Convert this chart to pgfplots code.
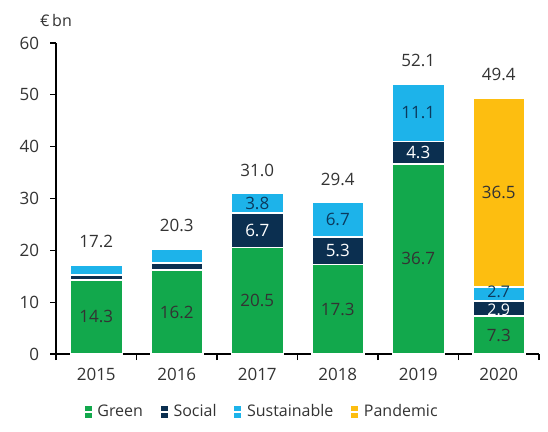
\documentclass[border=0pt]{standalone}
\usepackage{pgfplots}
\pgfplotsset{compat=1.18}
\usepackage{fontspec}
\setmainfont{Open Sans}
\definecolor{cgreen}{HTML}{12A84C}
\definecolor{cnavy}{HTML}{0B2F50}
\definecolor{cblue}{HTML}{1DB3EA}
\definecolor{cyellow}{HTML}{FDBE10}
\definecolor{ctext}{HTML}{333333}
\definecolor{cdkblue}{HTML}{0B3A5E}
\begin{document}
\fontsize{17}{20}\selectfont
\begin{tikzpicture}
\useasboundingbox (-56pt,-77pt) rectangle (492pt,354pt);
\begin{axis}[
  at={(0pt,0pt)}, anchor=south west,
  width=483pt, height=311pt, scale only axis, clip=false,
  ybar stacked, bar width=52pt,
  xmin=-0.5, xmax=5.5, ymin=0, ymax=60,
  axis x line=bottom, axis y line=left,
  axis line style={-, line width=1.2pt, color=black},
  xtick={-0.5,0.5,...,5.5}, xticklabels={},
  extra x ticks={0,1,2,3,4,5},
  extra x tick labels={2015,2016,2017,2018,2019,2020},
  extra x tick style={major tick length=0pt},
  ytick={0,10,...,60},
  tick align=outside, major tick length=6pt,
  tick style={black, line width=1.2pt},
  xticklabel style={text=ctext, yshift=-8pt},
  yticklabel style={text=ctext, xshift=-5pt},
  /pgf/number format/assume math mode=true,
  legend style={at={(0.426,-0.186)}, anchor=center, draw=none, fill=none,
    legend columns=4, text=ctext, font=\fontsize{16}{18}\selectfont,
    /tikz/every even column/.append style={column sep=15pt}},
  legend image code/.code={\fill[#1,draw=none] (0pt,-6pt) rectangle (7pt,6pt);
    \path (0pt,0pt) -- (10pt,0pt);},
  every axis plot/.append style={draw=white, line width=1.5pt},
]
\addplot[fill=cgreen] coordinates {(0,14.3) (1,16.2) (2,20.5) (3,17.3) (4,36.7) (5,7.3)};
\addplot[fill=cnavy] coordinates {(0,0.9) (1,1.4) (2,6.7) (3,5.3) (4,4.3) (5,2.9)};
\addplot[fill=cblue] coordinates {(0,2.0) (1,2.7) (2,3.8) (3,6.7) (4,11.1) (5,2.7)};
\addplot[fill=cyellow] coordinates {(0,0) (1,0) (2,0) (3,0) (4,0) (5,36.5)};
\legend{Green,Social,Sustainable,Pandemic}
\end{axis}
\begin{axis}[
  at={(0pt,0pt)}, anchor=south west,
  width=483pt, height=311pt, scale only axis,
  xmin=-0.5, xmax=5.5, ymin=0, ymax=60,
  hide axis, clip=false,
]
\node[text=ctext, anchor=center, font=\fontsize{16}{18}\selectfont] at (rel axis cs:0,1) [yshift=23pt] {€\,bn};
% labels inside green and pandemic segments
\addplot[draw=none, mark=none, nodes near coords, point meta=explicit symbolic,
  nodes near coords style={anchor=center, text=ctext}]
  table[meta=l] {
x y l
0 7.15 14.3
1 8.1 16.2
2 10.25 20.5
3 8.65 17.3
4 18.35 36.7
5 3.65 7.3
5 31.15 36.5
};
% labels inside social segments
\addplot[draw=none, mark=none, nodes near coords, point meta=explicit symbolic,
  nodes near coords style={anchor=center, text=white}]
  table[meta=l] {
x y l
2 23.85 6.7
3 19.95 5.3
4 38.85 4.3
};
\addplot[draw=none, mark=none, nodes near coords, point meta=explicit symbolic,
  nodes near coords style={anchor=center, text=white, font=\fontsize{16}{18}\selectfont}]
  table[meta=l] {
x y l
5 8.55 2.9
};
% labels inside sustainable segments
\addplot[draw=none, mark=none, nodes near coords, point meta=explicit symbolic,
  nodes near coords style={anchor=center, text=cdkblue}]
  table[meta=l] {
x y l
2 29.1 3.8
3 25.95 6.7
4 46.55 11.1
};
\addplot[draw=none, mark=none, nodes near coords, point meta=explicit symbolic,
  nodes near coords style={anchor=center, text=cdkblue, font=\fontsize{16}{18}\selectfont}]
  table[meta=l] {
x y l
5 11.9 2.7
};
% totals
\addplot[draw=none, mark=none, nodes near coords, point meta=explicit symbolic,
  nodes near coords style={anchor=center, text=ctext, yshift=23pt}]
  table[meta=l] {
x y l
0 17.2 17.2
1 20.3 20.3
2 31.0 31.0
3 29.3 29.4
4 52.1 52.1
5 49.4 49.4
};
\end{axis}
\end{tikzpicture}
\end{document}
